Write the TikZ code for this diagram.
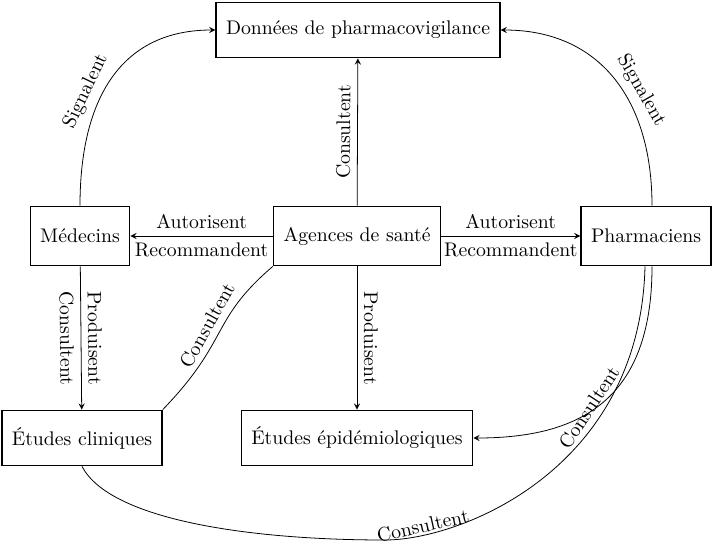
\documentclass[tikz,border=0pt]{standalone}
\usetikzlibrary{positioning}
\begin{document}
\begin{tikzpicture}[x=0.507pt,y=-0.507pt,>=stealth,
  boite/.style={draw,thick,minimum height=28pt,inner xsep=5pt},
  lbl/.style={font=\normalsize}]
\useasboundingbox (0,0) rectangle (717,556);
\node[boite] (donnees) at (358,30) {Données de pharmacovigilance};
\node[boite,minimum height=30pt] (medecins) at (80,236) {Médecins};
\node[boite,minimum height=30pt] (agences) at (357,236) {Agences de santé};
\node[boite,minimum height=30pt] (pharma) at (646,236) {Pharmaciens};
\node[boite] (cliniques) at (82,438) {Études cliniques};
\node[boite] (epidemio) at (357,438) {Études épidémiologiques};
\draw[->] (agences) -- node[above,sloped] {Consultent} (donnees);
\draw[->] (agences) -- node[above] {Autorisent} node[below] {Recommandent} (medecins);
\draw[->] (agences) -- node[above] {Autorisent} node[below] {Recommandent} (pharma);
\draw[->] (medecins.north) .. controls (80,100) and (120,30) .. node[above,sloped,pos=0.4] {Signalent} (donnees.west);
\draw[->] (pharma.north -| 652,0) .. controls (652,100) and (600,30) .. node[above,sloped,pos=0.4] {Signalent} (donnees.east);
\draw[->] (medecins) -- node[below,sloped] {Consultent} node[above,sloped] {Produisent} (cliniques);
\draw[->] (agences) -- node[above,sloped] {Produisent} (epidemio);
\draw (cliniques.north east) .. controls (230,340) and (210,320) .. node[above,sloped] {Consultent} (agences.south west);
\draw[->] (pharma.south -| 652,0) .. controls (652,400) and (580,438) .. (epidemio.east);
\draw (pharma.south -| 645,0) .. controls (640,470) and (460,540) .. node[above,sloped,pos=0.3] {Consultent}
  node[above,sloped,pos=0.85,inner sep=1pt] {Consultent}
  (385,540) .. controls (250,540) and (110,520) .. (cliniques.south);
\end{tikzpicture}
\end{document}
